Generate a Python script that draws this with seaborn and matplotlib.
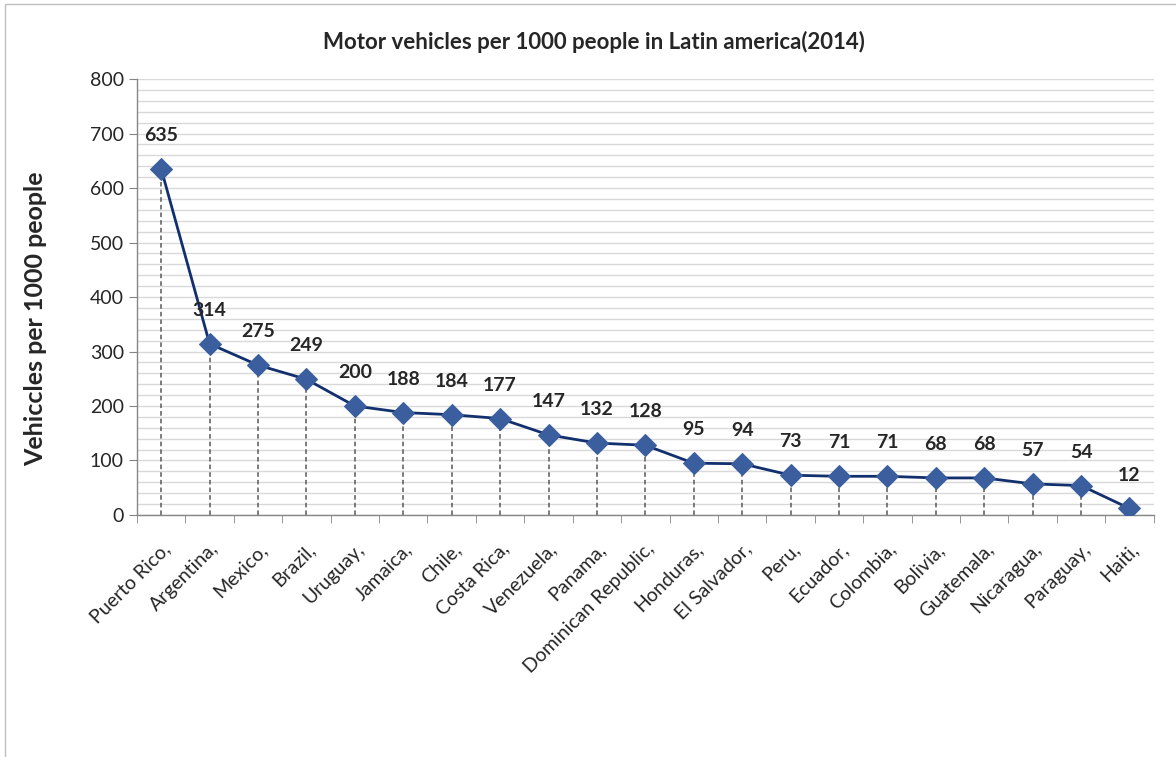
import seaborn as sns
import pandas as pd
import matplotlib.pyplot as plt
from matplotlib.ticker import MultipleLocator
from matplotlib.patches import Rectangle

countries = ["Puerto Rico", "Argentina", "Mexico", "Brazil", "Uruguay", "Jamaica",
             "Chile", "Costa Rica", "Venezuela", "Panama", "Dominican Republic",
             "Honduras", "El Salvador", "Peru", "Ecuador", "Colombia", "Bolivia",
             "Guatemala", "Nicaragua", "Paraguay", "Haiti"]
vehicles = [635, 314, 275, 249, 200, 188, 184, 177, 147, 132, 128,
            95, 94, 73, 71, 71, 68, 68, 57, 54, 12]

df = pd.DataFrame({'Country': countries, 'Vehicles': vehicles})
df['pos'] = range(len(df))

sns.set_style('white')
plt.rcParams['font.family'] = ['Lato', 'DejaVu Sans']

fig = plt.figure(figsize=(11.76, 7.57), dpi=100)
ax = fig.add_axes([0.1165, 0.3197, 0.8645, 0.5759])

# dashed drop lines
ax.vlines(df['pos'], 0, df['Vehicles'], colors='#595959', linestyles=(0, (3, 2)),
          linewidth=1.1, zorder=2)
sns.lineplot(data=df, x='pos', y='Vehicles', ax=ax, color='#12306E', linewidth=2,
             marker='D', markersize=11, markerfacecolor='#3A5E9E',
             markeredgecolor='#3A5E9E', zorder=3)

for x, y in zip(df['pos'], df['Vehicles']):
    ax.annotate(str(y), (x, y), xytext=(0, 24), textcoords='offset points',
                ha='center', va='center', fontsize=14, fontweight='bold')

ax.set_xlim(-0.5, len(df) - 0.5)
ax.set_ylim(0, 800)
ax.yaxis.set_major_locator(MultipleLocator(100))
ax.yaxis.set_minor_locator(MultipleLocator(20))
ax.grid(True, which='both', axis='y', color='#D9D9D9', linewidth=1)
ax.set_axisbelow(True)

ax.set_xticks(df['pos'])
ax.set_xticklabels([c + ',' for c in countries], rotation=45, ha='right',
                   rotation_mode='anchor', fontsize=14)
ax.tick_params(axis='x', length=0, pad=18)
ax.set_xticks([i - 0.5 for i in range(len(df) + 1)], minor=True)
ax.tick_params(axis='x', which='minor', length=6, color='#868686', direction='out',
               bottom=True)
ax.tick_params(axis='y', which='major', length=6, color='#868686', direction='out',
               left=True, labelsize=14)
ax.tick_params(axis='y', which='minor', length=0)

for s in ['top', 'right']:
    ax.spines[s].set_visible(False)
for s in ['left', 'bottom']:
    ax.spines[s].set_color('#868686')
    ax.spines[s].set_linewidth(1)

ax.set_xlabel('')
ax.set_ylabel('Vehiccles per 1000 people', fontsize=18, fontweight='bold')
ax.yaxis.set_label_coords(-0.0885, 0.45)
fig.text(0.505, 0.945, 'Motor vehicles per 1000 people in Latin america(2014)',
         ha='center', va='center', fontsize=16, fontweight='bold')

fig.patches.append(Rectangle((5 / 1176, -0.01), 1.2, 1.0047, transform=fig.transFigure,
                             fill=False, edgecolor='#BFBFBF', linewidth=1))

fig.savefig('out.png', dpi=100)
